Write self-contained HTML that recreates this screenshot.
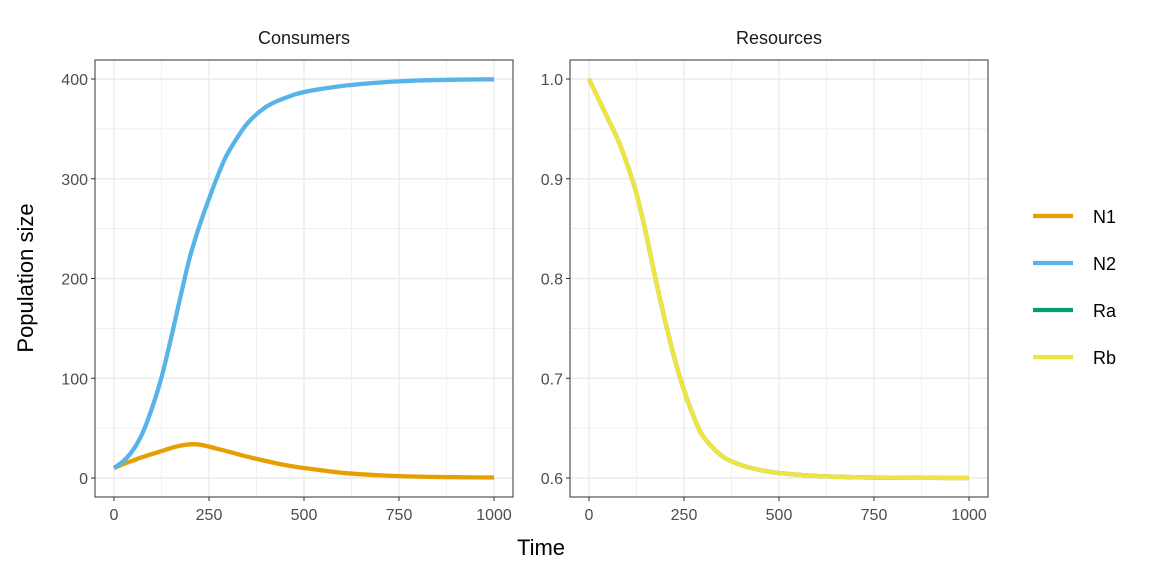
<!DOCTYPE html>
<html><head><meta charset="utf-8"><style>
body{margin:0;background:#fff}
text{font-family:"Liberation Sans",sans-serif}
</style></head><body>
<svg id="chart" width="1152" height="576" xmlns="http://www.w3.org/2000/svg">
<rect width="1152" height="576" fill="#fff"/>
<g id="g"></g>
</svg>
<script>
const times=[0,25,50,75,100,125,150,175,200,225,250,275,300,350,400,450,500,600,700,800,900,1000];
const n1=[10,14,17.5,21,24,27,30,32.5,33.8,33.5,31.5,29,26.5,21.5,17,13,10,5.2,2.7,1.4,0.8,0.5];
const n2=[10,17,28,45,70,101,140,182,222,253,280,305,326,355,372,381,387,393,396.5,398.5,399.3,399.7];
const ra=[1.0,0.98,0.96,0.94,0.915,0.885,0.845,0.80,0.758,0.72,0.688,0.662,0.642,0.622,0.613,0.608,0.605,0.602,0.6008,0.6003,0.6001,0.6];
const rb=[1.0,0.98,0.96,0.94,0.915,0.885,0.845,0.80,0.758,0.72,0.688,0.662,0.642,0.622,0.613,0.608,0.605,0.602,0.6008,0.6003,0.6001,0.6];
const xTicks=[0,250,500,750,1000];
const yTicksL=[0,100,200,300,400];
const yTicksR=[0.6,0.7,0.8,0.9,1.0];
const seriesNames=['N1','N2','Ra','Rb'];
const colors={N1:'#E69F00',N2:'#56B4E9',Ra:'#009E73',Rb:'#F0E442'};
const NS='http://www.w3.org/2000/svg';
const g=document.getElementById('g');
function mk(t,a,p){const e=document.createElementNS(NS,t);for(const k in a)e.setAttribute(k,a[k]);(p||g).appendChild(e);return e;}
function smooth(pts){let d='M'+pts[0][0].toFixed(1)+','+pts[0][1].toFixed(1);
  for(let i=0;i<pts.length-1;i++){const p0=pts[Math.max(0,i-1)],p1=pts[i],p2=pts[i+1],p3=pts[Math.min(pts.length-1,i+2)];
    const c1=[p1[0]+(p2[0]-p0[0])/6,p1[1]+(p2[1]-p0[1])/6],c2=[p2[0]-(p3[0]-p1[0])/6,p2[1]-(p3[1]-p1[1])/6];
    d+='C'+c1.map(v=>v.toFixed(1)).join(',')+' '+c2.map(v=>v.toFixed(1)).join(',')+' '+p2.map(v=>v.toFixed(1)).join(',');}
  return d;}
function panel(x0,x1,y0,y1,title,ymin,ymax,yt,fmt,series,name){
  const pg=mk('g',{});
  
  
  const X=v=>x0+19+(v/1000)*(x1-x0-38);
  const Y=v=>y1-19-((v-ymin)/(ymax-ymin))*(y1-y0-38);
  for(let i=0;i<4;i++){const v=125+250*i;mk('line',{x1:X(v),x2:X(v),y1:y0,y2:y1,stroke:'#ebebeb','stroke-width':0.7},pg);}
  for(let i=0;i<yt.length-1;i++){const v=(yt[i]+yt[i+1])/2;mk('line',{x1:x0,x2:x1,y1:Y(v),y2:Y(v),stroke:'#ebebeb','stroke-width':0.7},pg);}
  xTicks.forEach(v=>{mk('line',{x1:X(v),x2:X(v),y1:y0,y2:y1,stroke:'#ebebeb','stroke-width':1.4},pg);
    mk('line',{x1:X(v),x2:X(v),y1:y1,y2:y1+4,stroke:'#333','stroke-width':1},pg);
    const t=mk('text',{x:X(v),y:y1+23,'text-anchor':'middle','font-size':16,fill:'#4d4d4d'},pg);t.textContent=v;
    });
  yt.forEach(v=>{mk('line',{x1:x0,x2:x1,y1:Y(v),y2:Y(v),stroke:'#ebebeb','stroke-width':1.4},pg);
    mk('line',{x1:x0-4,x2:x0,y1:Y(v),y2:Y(v),stroke:'#333','stroke-width':1},pg);
    const t=mk('text',{x:x0-7,y:Y(v)+6,'text-anchor':'end','font-size':16,fill:'#4d4d4d'},pg);t.textContent=fmt(v);
    });
  series.forEach(s=>{const pts=times.map((t,i)=>[X(t),Y(s.v[i])]);
    const p=mk('path',{d:smooth(pts),fill:'none',stroke:colors[s.n],'stroke-width':4.3,'stroke-linejoin':'round','stroke-linecap':'butt'},pg);
    });
  mk('rect',{x:x0,y:y0,width:x1-x0,height:y1-y0,fill:'none',stroke:'#333','stroke-width':1},pg);
  const tt=mk('text',{x:(x0+x1)/2,y:y0-16,'text-anchor':'middle','font-size':18,fill:'#1a1a1a'},pg);tt.textContent=title;
  
}
panel(95,513,60,497,'Consumers',0,400,yTicksL,v=>v,[{n:'N1',v:n1},{n:'N2',v:n2}],'consumers-panel');
panel(570,988,60,497,'Resources',0.6,1.0,yTicksR,v=>v.toFixed(1),[{n:'Ra',v:ra},{n:'Rb',v:rb}],'resources-panel');
const xl=mk('text',{x:541,y:555,'text-anchor':'middle','font-size':22,fill:'#000'});xl.textContent='Time';

const yl=mk('text',{x:33,y:278,'text-anchor':'middle','font-size':22,fill:'#000',transform:'rotate(-90 33 278)'});yl.textContent='Population size';

seriesNames.forEach((n,i)=>{const y=216+i*47;
  const lg=mk('g',{});
  
  
  mk('line',{x1:1033,x2:1073,y1:y,y2:y,stroke:colors[n],'stroke-width':4.3},lg);
  const t=mk('text',{x:1093,y:y+7,'font-size':18,fill:'#000'},lg);t.textContent=n;});
</script>
</body></html>
